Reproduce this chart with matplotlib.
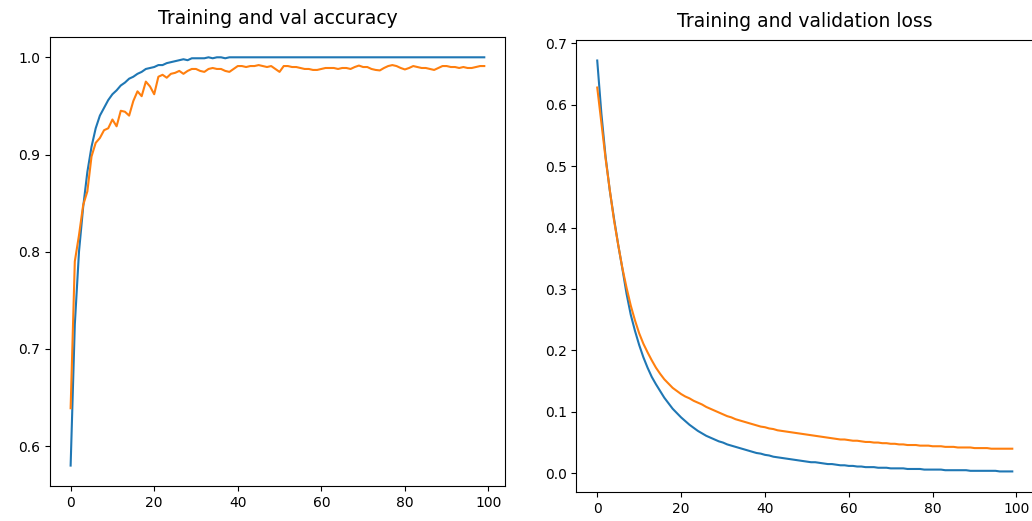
import matplotlib
matplotlib.use("Agg")
import matplotlib.pyplot as plt

# --- du lieu doc tu hinh ---
epochs = list(range(100))

acc = [0.580, 0.725, 0.800, 0.846, 0.882, 0.908, 0.927, 0.940, 0.948, 0.956,
       0.962, 0.966, 0.971, 0.974, 0.978, 0.980, 0.983, 0.985, 0.988, 0.989,
       0.990, 0.992, 0.992, 0.994, 0.995, 0.996, 0.997, 0.998, 0.997, 0.999,
       0.999, 0.999, 0.999, 1.000, 0.999, 1.000, 1.000, 0.999, 1.000, 1.000,
       1.000, 1.000, 1.000, 1.000, 1.000, 1.000, 1.000, 1.000, 1.000, 1.000,
       1.000, 1.000, 1.000, 1.000, 1.000, 1.000, 1.000, 1.000, 1.000, 1.000,
       1.000, 1.000, 1.000, 1.000, 1.000, 1.000, 1.000, 1.000, 1.000, 1.000,
       1.000, 1.000, 1.000, 1.000, 1.000, 1.000, 1.000, 1.000, 1.000, 1.000,
       1.000, 1.000, 1.000, 1.000, 1.000, 1.000, 1.000, 1.000, 1.000, 1.000,
       1.000, 1.000, 1.000, 1.000, 1.000, 1.000, 1.000, 1.000, 1.000, 1.000]

val_acc = [0.639, 0.790, 0.817, 0.848, 0.862, 0.898, 0.912, 0.917, 0.925, 0.927,
           0.936, 0.929, 0.945, 0.944, 0.940, 0.955, 0.965, 0.960, 0.975, 0.970,
           0.962, 0.980, 0.982, 0.979, 0.983, 0.984, 0.986, 0.983, 0.986, 0.988,
           0.988, 0.986, 0.985, 0.988, 0.989, 0.988, 0.988, 0.986, 0.985, 0.988,
           0.991, 0.991, 0.990, 0.991, 0.991, 0.992, 0.991, 0.990, 0.991, 0.988,
           0.985, 0.991, 0.991, 0.990, 0.990, 0.989, 0.988, 0.988, 0.987, 0.987,
           0.988, 0.989, 0.989, 0.989, 0.988, 0.989, 0.989, 0.988, 0.990, 0.9915,
           0.990, 0.990, 0.988, 0.987, 0.9865, 0.989, 0.991, 0.992, 0.991, 0.989,
           0.9875, 0.989, 0.991, 0.990, 0.989, 0.989, 0.988, 0.987, 0.989, 0.991,
           0.991, 0.990, 0.990, 0.989, 0.990, 0.989, 0.989, 0.990, 0.991, 0.991]

loss = [0.672, 0.585, 0.515, 0.460, 0.415, 0.372, 0.333, 0.292, 0.258, 0.232,
        0.209, 0.189, 0.172, 0.157, 0.145, 0.134, 0.123, 0.114, 0.105, 0.098,
        0.091, 0.085, 0.079, 0.074, 0.069, 0.065, 0.061, 0.058, 0.055, 0.052,
        0.050, 0.047, 0.045, 0.043, 0.041, 0.039, 0.037, 0.035, 0.033, 0.032,
        0.030, 0.029, 0.027, 0.026, 0.025, 0.024, 0.023, 0.022, 0.021, 0.020,
        0.019, 0.018, 0.018, 0.017, 0.016, 0.015, 0.015, 0.014, 0.013, 0.013,
        0.012, 0.012, 0.011, 0.011, 0.010, 0.010, 0.010, 0.009, 0.009, 0.009,
        0.008, 0.008, 0.008, 0.008, 0.007, 0.007, 0.007, 0.007, 0.006, 0.006,
        0.006, 0.006, 0.006, 0.005, 0.005, 0.005, 0.005, 0.005, 0.005, 0.004,
        0.004, 0.004, 0.004, 0.004, 0.004, 0.004, 0.003, 0.003, 0.003, 0.003]

val_loss = [0.628, 0.570, 0.512, 0.461, 0.412, 0.372, 0.334, 0.302, 0.273, 0.249,
            0.228, 0.211, 0.197, 0.184, 0.172, 0.162, 0.153, 0.146, 0.139, 0.134,
            0.129, 0.125, 0.122, 0.118, 0.115, 0.112, 0.108, 0.105, 0.102, 0.099,
            0.096, 0.093, 0.091, 0.088, 0.086, 0.084, 0.082, 0.080, 0.078, 0.076,
            0.075, 0.073, 0.072, 0.070, 0.069, 0.068, 0.067, 0.066, 0.065, 0.064,
            0.063, 0.062, 0.061, 0.060, 0.059, 0.058, 0.057, 0.056, 0.055, 0.055,
            0.054, 0.053, 0.053, 0.052, 0.051, 0.051, 0.050, 0.050, 0.049, 0.049,
            0.048, 0.048, 0.047, 0.047, 0.046, 0.046, 0.046, 0.045, 0.045, 0.045,
            0.044, 0.044, 0.044, 0.043, 0.043, 0.043, 0.042, 0.042, 0.042, 0.042,
            0.041, 0.041, 0.041, 0.041, 0.040, 0.040, 0.040, 0.040, 0.040, 0.040]

# --- ve hinh ---
fig = plt.figure(figsize=(10.32, 5.21), dpi=100)

ax1 = fig.add_axes([0.0484, 0.0672, 0.4409, 0.862])
ax1.plot(epochs, acc)
ax1.plot(epochs, val_acc)
ax1.set_title("Training and val accuracy", fontsize=13.5, pad=9)

ax2 = fig.add_axes([0.5586, 0.0557, 0.4424, 0.8676])
ax2.plot(epochs, loss)
ax2.plot(epochs, val_loss)
ax2.set_title("Training and validation loss", fontsize=13.5, pad=9)

fig.savefig("out.png", dpi=100)
